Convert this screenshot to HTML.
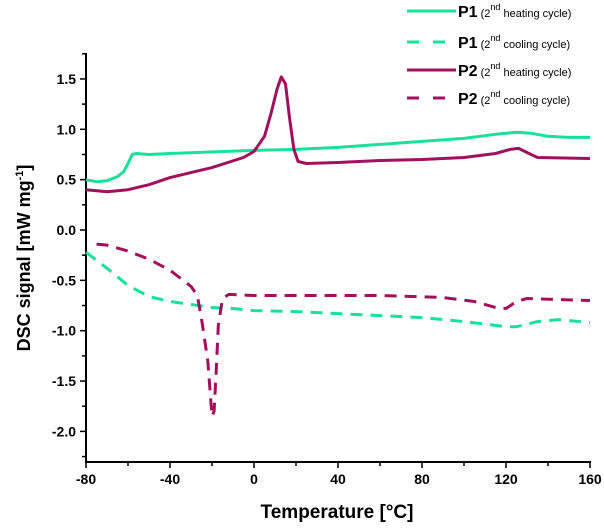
<!DOCTYPE html>
<html><head><meta charset="utf-8"><style>
body{margin:0;background:#fff;font-family:"Liberation Sans",Arial,sans-serif}
svg text{font-family:"Liberation Sans",Arial,sans-serif}
</style></head><body>
<svg width="604" height="524">
<g id="axes"></g>
<g id="series"></g>
<text x="337" y="518" text-anchor="middle" font-size="19" font-weight="bold">Temperature [°C]</text>
<text transform="translate(30,258) rotate(-90)" text-anchor="middle" font-size="18" font-weight="bold">DSC signal [mW mg<tspan font-size="11" dy="-7">-1</tspan><tspan dy="7">]</tspan></text>
<g id="legend"></g>
</svg>
<script>
const xTicks=[-80,-40,0,40,80,120,160];
const yTicks=[1.5,1.0,0.5,0.0,-0.5,-1.0,-1.5,-2.0];
const yTickLabels=["1.5","1.0","0.5","0.0","-0.5","-1.0","-1.5","-2.0"];
const p1hT=[-80,-75,-70,-65,-62,-60,-58,-56,-50,-40,0,20,40,60,80,100,115,125,132,140,150,160];
const p1hV=[0.50,0.48,0.49,0.53,0.58,0.66,0.75,0.76,0.75,0.76,0.79,0.80,0.82,0.85,0.88,0.91,0.95,0.97,0.96,0.93,0.92,0.92];
const p2hT=[-80,-70,-60,-50,-40,-20,-5,0,5,8,11,13,15,17,19,21,25,40,60,80,100,115,122,126,130,135,160];
const p2hV=[0.40,0.38,0.40,0.45,0.52,0.62,0.72,0.78,0.93,1.15,1.40,1.52,1.45,1.10,0.80,0.68,0.66,0.67,0.69,0.70,0.72,0.76,0.80,0.81,0.77,0.72,0.71];
const p1cT=[-80,-70,-60,-50,-40,-30,-20,-10,0,20,40,60,80,100,120,125,135,145,160];
const p1cV=[-0.22,-0.38,-0.55,-0.66,-0.71,-0.74,-0.77,-0.78,-0.80,-0.81,-0.83,-0.85,-0.87,-0.91,-0.96,-0.96,-0.91,-0.89,-0.92];
const p2cT=[-75,-70,-60,-50,-40,-35,-30,-27,-25,-22,-20,-19,-18,-17,-15,-12,0,60,90,105,115,120,125,130,160];
const p2cV=[-0.14,-0.15,-0.21,-0.29,-0.40,-0.48,-0.56,-0.65,-0.88,-1.30,-1.85,-1.80,-1.40,-0.95,-0.68,-0.64,-0.65,-0.65,-0.67,-0.71,-0.77,-0.78,-0.71,-0.68,-0.70];
const NS="http://www.w3.org/2000/svg";
const X=t=>86+(t+80)*504/240, Y=v=>230-v*100.7;
function mk(tag,at,parent){const e=document.createElementNS(NS,tag);for(const k in at)e.setAttribute(k,at[k]);parent.appendChild(e);return e;}
const ax=document.getElementById('axes');
let e=mk('line',{x1:86,y1:53,x2:86,y2:462,stroke:'#000','stroke-width':2},ax);


e=mk('line',{x1:85,y1:462,x2:591,y2:462,stroke:'#000','stroke-width':2},ax);


for(let t=-80;t<=160;t+=20){const maj=t%40===0;mk('line',{x1:X(t),y1:462,x2:X(t),y2:462+(maj?6:4),stroke:'#000','stroke-width':1.5},ax);}
xTicks.forEach(t=>{const tx=mk('text',{x:X(t),y:484,'text-anchor':'middle','font-size':14,'font-weight':'bold'},ax);tx.textContent=t;

});
for(let v=1.75;v>=-2.3;v-=0.25){const maj=Math.abs(v*2-Math.round(v*2))<1e-6;mk('line',{x1:86,y1:Y(v),x2:86-(maj?6:4),y2:Y(v),stroke:'#000','stroke-width':1.5},ax);}
yTicks.forEach((v,i)=>{const tx=mk('text',{x:76,y:Y(v)+5,'text-anchor':'end','font-size':14,'font-weight':'bold'},ax);tx.textContent=yTickLabels[i];

});
const G='#19e09a',M='#a0105e';
const ser=document.getElementById('series');
function path(T,V,col,dash,name){const d=T.map((t,i)=>(i?'L':'M')+X(t).toFixed(1)+','+Y(V[i]).toFixed(1)).join('');
const p=mk('path',{d:d,fill:'none',stroke:col,'stroke-width':3,'stroke-linejoin':'round'},ser);
if(dash)p.setAttribute('stroke-dasharray','12,8');

}
path(p1hT,p1hV,G,false,'p1-heating-line');
path(p1cT,p1cV,G,true,'p1-cooling-line');
path(p2hT,p2hV,M,false,'p2-heating-line');
path(p2cT,p2cV,M,true,'p2-cooling-line');
const lg=document.getElementById('legend');
[[G,false,'P1','heating cycle)',11],[G,true,'P1','cooling cycle)',42],[M,false,'P2','heating cycle)',70],[M,true,'P2','cooling cycle)',98]].forEach(r=>{
const l=mk('line',{x1:407,y1:r[4],x2:456,y2:r[4],stroke:r[0],'stroke-width':3},lg);
if(r[1])l.setAttribute('stroke-dasharray','12,14');


const t=mk('text',{x:458,y:r[4]+6,'font-size':16,'font-weight':'bold'},lg);
t.innerHTML=r[2]+'<tspan font-size="11" font-weight="normal"> (2</tspan><tspan font-size="9" font-weight="normal" dy="-7">nd</tspan><tspan font-size="11" font-weight="normal" dy="7"> '+r[3]+'</tspan>';

});
</script>
</body></html>
